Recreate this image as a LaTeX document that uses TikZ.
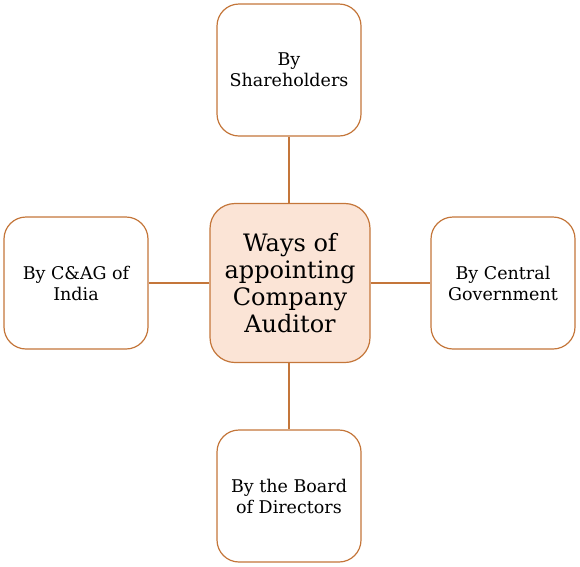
\documentclass[tikz,border=0pt]{standalone}
\usepackage{fontspec}
\setmainfont{DejaVu Serif}
\definecolor{edge}{RGB}{196,118,58}
\definecolor{peach}{RGB}{251,228,214}
\tikzset{
    waybox/.style={draw=edge, line width=1.2pt, fill=white, rounded corners=22pt,
        minimum width=144pt, minimum height=132pt, align=center, font=\fontsize{17.5}{21}\selectfont},
    hubbox/.style={waybox, fill=peach, rounded corners=25pt, minimum width=160pt,
        minimum height=159pt, font=\fontsize{24}{27}\selectfont},
    link/.style={draw=edge, line width=1.2pt}
}
\begin{document}
\begin{tikzpicture}[x=1pt, y=-1pt]
    \useasboundingbox (0,0) rectangle (580,566);
    \node[hubbox] (hub) at (290,283) {Ways of\\appointing\\Company\\Auditor};
    \node[waybox] (top) at (289,70) {By\\Shareholders};
    \node[waybox] (left) at (76,283) {By C\&AG of\\India};
    \node[waybox] (right) at (503,283) {By Central\\Government};
    \node[waybox] (bottom) at (289,496) {By the Board\\of Directors};
    \draw[link] (hub.north -| top.south) -- (top.south);
    \draw[link] (hub) -- (left);
    \draw[link] (hub) -- (right);
    \draw[link] (hub.south -| bottom.north) -- (bottom.north);
\end{tikzpicture}
\end{document}
